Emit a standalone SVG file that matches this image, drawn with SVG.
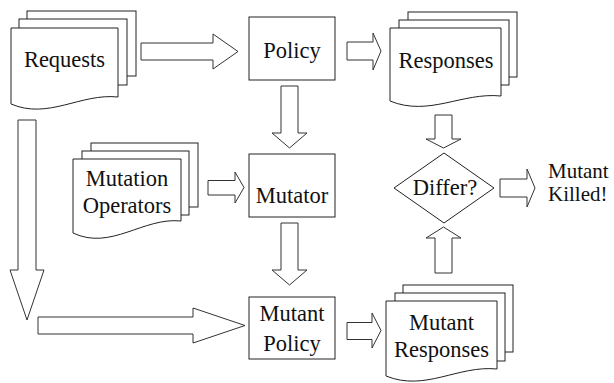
<svg xmlns="http://www.w3.org/2000/svg" width="614" height="383" viewBox="0 0 614 383">
<style>
.s{fill:#fff;stroke:#222;stroke-width:1}
.a{fill:#fff;stroke:#333;stroke-width:1}
text{font-family:'Liberation Serif','DejaVu Serif',serif;font-size:22.5px;fill:#111;text-anchor:middle}
.l{text-anchor:start;font-size:21px}
</style>
<rect width="614" height="383" fill="#fff"/>
<g id="requests">
<rect class="s" x="27" y="11" width="109" height="65"/>
<rect class="s" x="19" y="19" width="108" height="66"/>
<path class="s" d="M11,28 H118 V97 C80.5,93 48.5,120 11,104 Z"/>
<text x="64.5" y="67" font-family="Liberation Serif, serif">Requests</text>
</g>
<g id="policy">
<rect class="s" x="249" y="17" width="86" height="63"/>
<text x="292" y="58" font-family="Liberation Serif, serif">Policy</text>
</g>
<g id="responses">
<rect class="s" x="408" y="12" width="109" height="65"/>
<rect class="s" x="399" y="20" width="110" height="65"/>
<path class="s" d="M390,28 H501 V96 C462,92 429,117 390,101 Z"/>
<text x="446" y="68" font-family="Liberation Serif, serif">Responses</text>
</g>
<g id="mutation-operators">
<rect class="s" x="91" y="143" width="107" height="64"/>
<rect class="s" x="82" y="151" width="107" height="64"/>
<path class="s" d="M73,159 H181 V221 C143,217 111,251 73,233 Z"/>
<text x="127" y="186" font-family="Liberation Serif, serif">Mutation</text>
<text x="127" y="213" font-family="Liberation Serif, serif">Operators</text>
</g>
<g id="mutator">
<rect class="s" x="249" y="154" width="86" height="63"/>
<text x="292" y="203" font-family="Liberation Serif, serif">Mutator</text>
</g>
<g id="differ">
<polygon class="s" points="444,153 494,188 444,223 394,188"/>
<text x="445" y="195" font-family="Liberation Serif, serif">Differ?</text>
</g>
<g id="mutant-killed">
<text class="l" x="548" y="177.5" font-family="Liberation Serif, serif">Mutant</text>
<text class="l" x="548" y="201" font-family="Liberation Serif, serif">Killed!</text>
</g>
<g id="mutant-policy">
<rect class="s" x="249" y="297" width="86" height="62"/>
<text x="292" y="321" font-family="Liberation Serif, serif">Mutant</text>
<text x="292" y="351" font-family="Liberation Serif, serif">Policy</text>
</g>
<g id="mutant-responses">
<rect class="s" x="403" y="285" width="110" height="67"/>
<rect class="s" x="395" y="293" width="110" height="68"/>
<path class="s" d="M386,301 H497 V369 C458,365 425,392 386,376 Z"/>
<text x="441.5" y="330" font-family="Liberation Serif, serif">Mutant</text>
<text x="441.5" y="357" font-family="Liberation Serif, serif">Responses</text>
</g>
<g id="connectors">
<polygon class="a" points="141,43 213,43 213,34 238,51.5 213,69 213,60 141,60"/>
<polygon class="a" points="347,42 373,42 373,33 381,51 373,70 373,60 347,60"/>
<polygon class="a" points="281,86 298,86 298,133 307,133 289.5,148 272,133 281,133"/>
<polygon class="a" points="208,180.5 235,180.5 235,172 244,187.5 235,203 235,195 208,195"/>
<polygon class="a" points="281,223 298,223 298,270 307,270 289.5,285 272,270 281,270"/>
<polygon class="a" points="18,120 36,120 36,270 44,270 27,320 10,270 18,270"/>
<polygon class="a" points="38,317 193,317 193,308 245,325.5 193,343 193,334 38,334"/>
<polygon class="a" points="347,322.5 372,322.5 372,313 381,330.5 372,348 372,339.5 347,339.5"/>
<polygon class="a" points="435,115 452,115 452,139 461,139 443.5,148 426,139 435,139"/>
<polygon class="a" points="435,273 452,273 452,238 461,238 443.5,227 426,238 435,238"/>
<polygon class="a" points="500,179 527,179 527,169 535,188 527,207 527,197 500,197"/>
</g>
</svg>
